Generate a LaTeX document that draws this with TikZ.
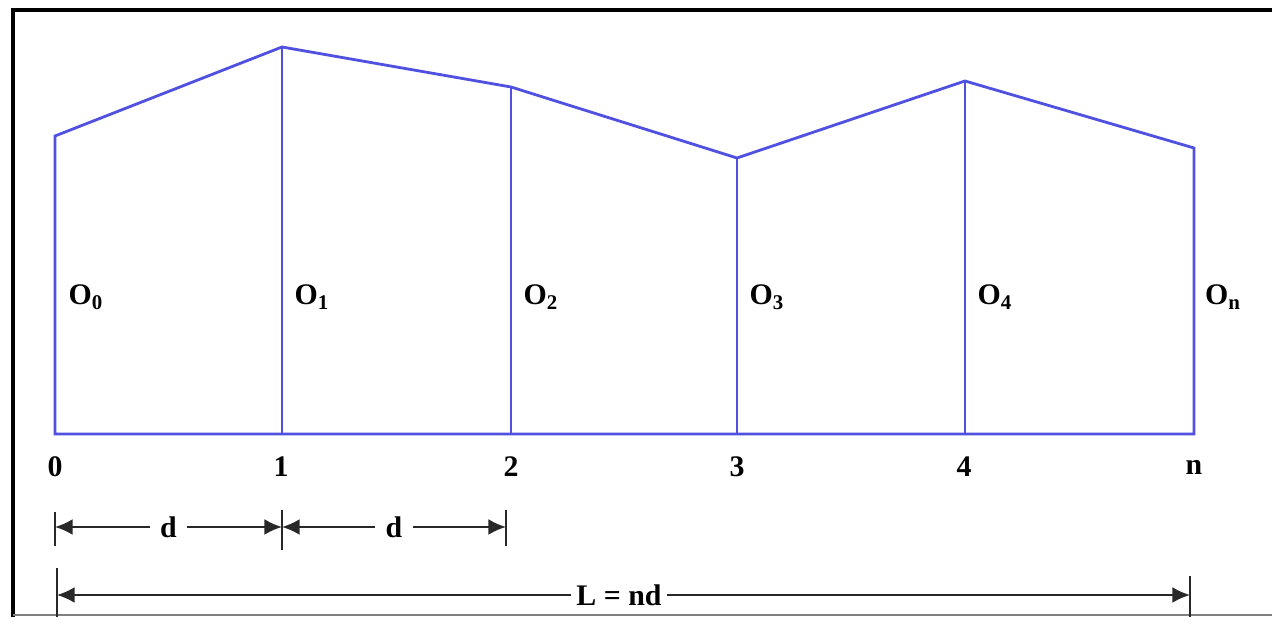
\documentclass[tikz,border=0pt]{standalone}
\usepackage{fontspec}
\setmainfont{Liberation Serif}
\usetikzlibrary{arrows.meta}
\definecolor{lineblue}{RGB}{80,80,225}
\definecolor{dimgray}{RGB}{40,40,40}
\tikzset{
  px/.style={x=0.02cm,y=-0.02cm},
  wall/.style={draw=lineblue,line width=1.6pt,line join=miter},
  lbl/.style={font=\bfseries\fontsize{17}{17}\selectfont,inner sep=0pt},
  dimline/.style={draw=dimgray,line width=1.1pt,{Latex[length=10pt,width=9pt]}-{Latex[length=10pt,width=9pt]}},
  tick/.style={draw=dimgray,line width=1.1pt},
  dimlbl/.style={font=\bfseries\fontsize{17}{17}\selectfont,fill=white,inner xsep=6pt,inner ysep=2pt},
}
\begin{document}
\begin{tikzpicture}[px]
\useasboundingbox (0,0) rectangle (1272,617);
% frame
\draw[line width=2.6pt,black] (13,617) -- (13,10) -- (1272,10);
\draw[line width=1pt,gray] (13,615) -- (1272,615);
% base and top points
\foreach \i/\x/\y in {0/55/136,1/282/47,2/511/87,3/737/158,4/965/81,n/1194/148}{
  \coordinate (b\i) at (\x,434);
  \coordinate (t\i) at (\x,\y);
}
\draw[wall] (b0) -- (t0) -- (t1) -- (t2) -- (t3) -- (t4) -- (tn) -- (bn) -- cycle;
\foreach \i in {1,2,3,4}{\draw[wall] (b\i) -- (t\i);}
% ordinate labels
\node[lbl] (o0) at (86,297) {O\textsubscript{0}};
\node[lbl] (o1) at (312,297) {O\textsubscript{1}};
\node[lbl] (o2) at (541,297) {O\textsubscript{2}};
\node[lbl] (o3) at (767,297) {O\textsubscript{3}};
\node[lbl] (o4) at (995,297) {O\textsubscript{4}};
\node[lbl] (on) at (1223,297) {O\textsubscript{n}};
% station numbers
\node[lbl] (s0) at (55,467) {0};
\node[lbl] (s1) at (281,467) {1};
\node[lbl] (s2) at (511,467) {2};
\node[lbl] (s3) at (737,467) {3};
\node[lbl] (s4) at (964,467) {4};
\node[lbl] (sn) at (1194,467) {n};
% dimension ticks
\coordinate (d0t) at (55,512); \coordinate (d0b) at (55,546);
\coordinate (d1t) at (282,510); \coordinate (d1b) at (282,550);
\coordinate (d2t) at (506,510); \coordinate (d2b) at (506,546);
\coordinate (l0t) at (57,568); \coordinate (l0b) at (57,617);
\coordinate (l1t) at (1190,576); \coordinate (l1b) at (1190,617);
\foreach \a in {d0,d1,d2,l0,l1}{\draw[tick] (\a t) -- (\a b);}
\coordinate (da) at (55,527); \coordinate (db) at (282,527); \coordinate (dc) at (506,527);
\coordinate (la) at (57,595); \coordinate (lb) at (1190,595);
\draw[dimline] (da) -- node[dimlbl] (dl1) {d} (db);
\draw[dimline] (db) -- node[dimlbl] (dl2) {d} (dc);
\draw[dimline] (la) -- node[dimlbl,pos=0.496,inner xsep=3pt] (ll) {L = nd} (lb);
\end{tikzpicture}
\end{document}
